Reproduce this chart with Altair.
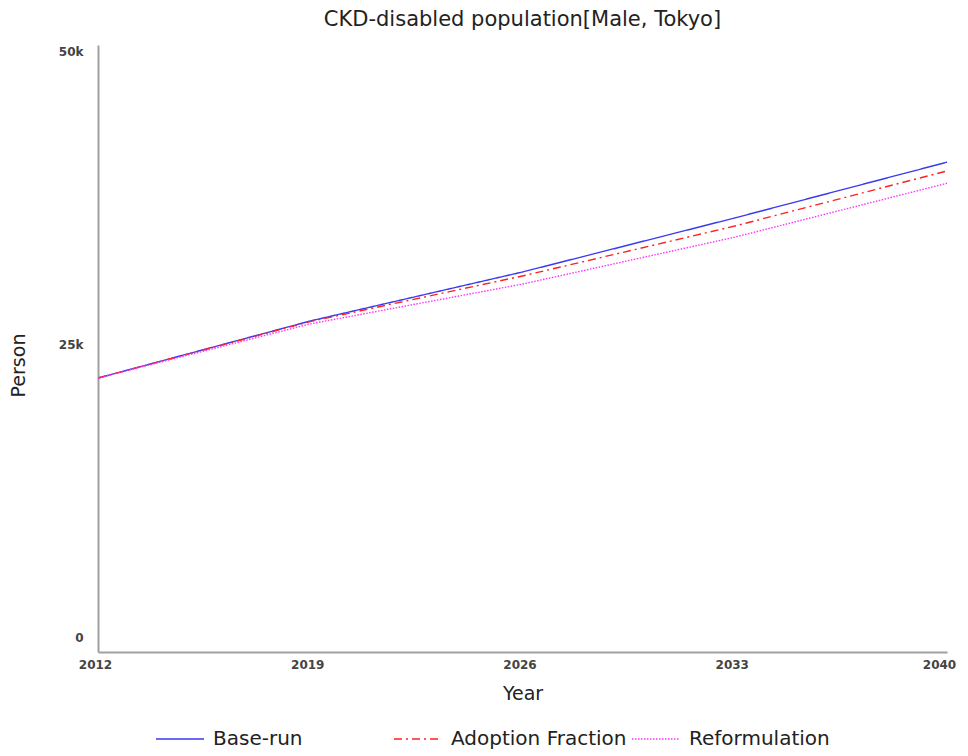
import altair as alt
import pandas as pd

years = [2012, 2019, 2026, 2033, 2040]
base_run = [22180, 27050, 31230, 35840, 40600]
adoption = [22180, 27000, 30890, 35150, 39850]
reform = [22180, 26800, 30200, 34200, 38800]
series_names = ["Base-run", "Adoption Fraction", "Reformulation"]
colors = ["#3a3af0", "#ff2020", "#ff33ff"]
dashes = [[1, 0], [8, 4, 2, 4], [1.5, 1.5]]

rows = []
for name, vals in zip(series_names, [base_run, adoption, reform]):
    for y, v in zip(years, vals):
        rows.append({"Year": y, "Person": v, "Series": name})
df = pd.DataFrame(rows)

font = "DejaVu Sans"

chart = alt.Chart(df).mark_line(strokeWidth=1.4, clip=True).encode(
    x=alt.X("Year:Q",
            scale=alt.Scale(domain=[2012, 2040], nice=False, zero=False),
            axis=alt.Axis(values=years, format="d", grid=False, ticks=False,
                          labelFlush=False,
                          labelOffset={"expr": "datum.value == 2040 ? -8 : -3"},
                          domainColor="#a0a0a0", domainWidth=2,
                          labelFont=font, labelFontSize=12, labelColor="#444444",
                          labelFontWeight="bold", labelPadding=7,
                          title="Year", titleFont=font, titleFontSize=19,
                          titleFontWeight="normal", titleColor="#222222",
                          titlePadding=14)),
    y=alt.Y("Person:Q",
            scale=alt.Scale(domain=[-1195, 50597], nice=False, zero=False),
            axis=alt.Axis(values=[0, 25000, 50000],
                          labelExpr="datum.value == 0 ? '0' : (datum.value/1000) + 'k'",
                          grid=False, ticks=False,
                          domainColor="#a0a0a0", domainWidth=2,
                          labelFont=font, labelFontSize=12, labelColor="#444444",
                          labelFontWeight="bold", labelPadding=15,
                          title="Person", titleFont=font, titleFontSize=19,
                          titleFontWeight="normal", titleColor="#222222",
                          titleX=-80, titleY=320, titleBaseline="middle",
                          titleAlign="center")),
    color=alt.Color("Series:N",
                    scale=alt.Scale(domain=series_names, range=colors),
                    legend=alt.Legend(title=None, orient="none", legendX=57, legendY=669,
                                      direction="horizontal", columns=3,
                                      gridAlign="all", columnPadding=2,
                                      symbolType="stroke", symbolSize=2304,
                                      symbolStrokeWidth=1.5,
                                      labelFont=font, labelFontSize=20, labelLimit=400,
                                      labelColor="#222222", labelOffset=8)),
    strokeDash=alt.StrokeDash("Series:N",
                              scale=alt.Scale(domain=series_names, range=dashes),
                              legend=None),
).properties(
    width=849,
    height=607,
    title=alt.Title("CKD-disabled population[Male, Tokyo]", font=font, fontSize=21,
                    fontWeight="normal", color="#222222", anchor="middle", offset=15),
    autosize=alt.AutoSizeParams(type="none"),
    padding={"left": 90, "top": 37, "right": 13, "bottom": 100},
).configure_view(stroke=None)

chart.save("out.html", embed_options={"renderer": "svg", "actions": False})
